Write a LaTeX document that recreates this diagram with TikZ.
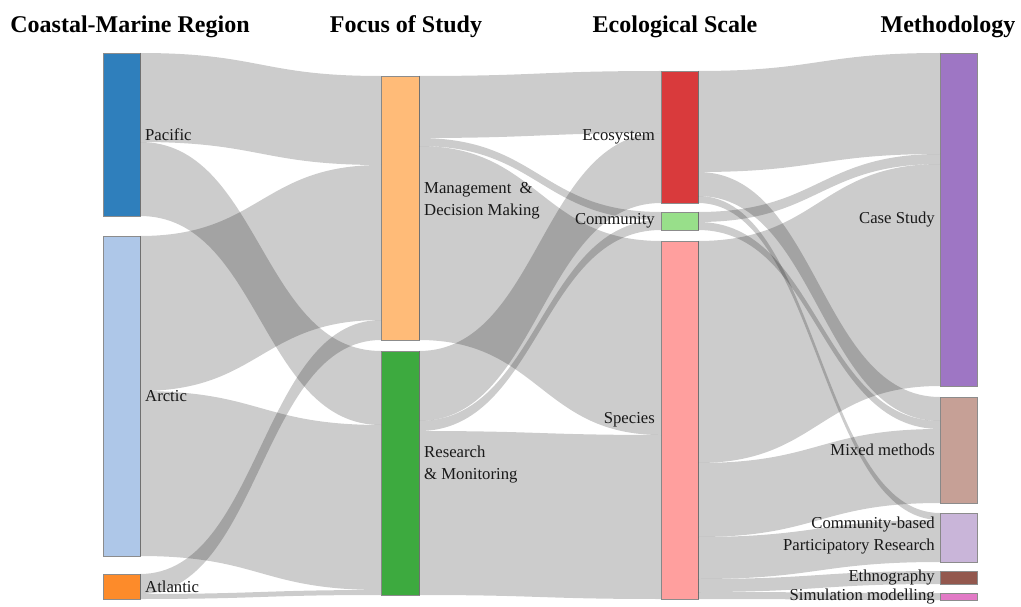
\documentclass[tikz,border=0pt]{standalone}
\usepackage{fontspec}
\setmainfont{Liberation Serif}
\usetikzlibrary{calc,positioning}
\definecolor{pacificc}{HTML}{2F7FBC}
\definecolor{arcticc}{HTML}{AEC7E8}
\definecolor{atlanticc}{HTML}{FD8B2A}
\definecolor{mgmtc}{HTML}{FFBB78}
\definecolor{resc}{HTML}{3DAA3F}
\definecolor{ecoc}{HTML}{D93A3C}
\definecolor{commc}{HTML}{98DF8A}
\definecolor{specc}{HTML}{FF9F9E}
\definecolor{casec}{HTML}{9E76C4}
\definecolor{mixedc}{HTML}{C6A096}
\definecolor{cbprc}{HTML}{C9B5D9}
\definecolor{ethc}{HTML}{93584E}
\definecolor{simc}{HTML}{E27AC6}
\tikzstyle{bar}=[draw=black!45,line width=0.6pt,minimum width=37pt,inner sep=0pt,outer sep=0pt,anchor=north west]
\tikzstyle{link}=[fill=black,fill opacity=0.2]
\tikzstyle{lbl}=[inner sep=0pt,text=black!90,font=\fontsize{16.7}{22}\selectfont]
\tikzstyle{ttl}=[inner sep=0pt,font=\bfseries\fontsize{24}{28}\selectfont]
% band from source node (offset from its top) to target node (offset), width
\newcommand{\flowband}[5]{\fill[link] ($(#1.north east)+(0,#2)$) .. controls +(120,0) and +(-120,0) .. ($(#3.north west)+(0,#4)$) -- ++(0,#5) .. controls +(-120,0) and +(120,0) .. ($(#1.north east)+(0,{#2+#5})$) -- cycle;}

\begin{document}
\begin{tikzpicture}[x=1pt,y=-1pt]
\useasboundingbox[fill=white] (0,0) rectangle (1021,607);
% titles
\node[ttl] (t1) at (130,27) {Coastal-Marine Region};
\node[ttl] (t2) at (406,27) {Focus of Study};
\node[ttl] (t3) at (675,27) {Ecological Scale};
\node[ttl] (t4) at (948,27) {Methodology};
% region
\node[bar,fill=pacificc,minimum height=163pt] (pac) at (103,53) {};
\node[bar,fill=arcticc,minimum height=320pt] (arc) at (103,236) {};
\node[bar,fill=atlanticc,minimum height=25pt] (atl) at (103,574) {};
% focus
\node[bar,fill=mgmtc,minimum height=264pt,minimum width=38pt] (mgmt) at (381,76) {};
\node[bar,fill=resc,minimum height=244pt,minimum width=38pt] (res) at (381,351) {};
% scale
\node[bar,fill=ecoc,minimum height=132pt] (eco) at (661,71) {};
\node[bar,fill=commc,minimum height=18pt] (comm) at (661,212) {};
\node[bar,fill=specc,minimum height=358pt] (spec) at (661,241) {};
% methodology
\node[bar,fill=casec,minimum height=333pt] (cs) at (940,53) {};
\node[bar,fill=mixedc,minimum height=106pt] (mm) at (940,397) {};
\node[bar,fill=cbprc,minimum height=49pt] (cbpr) at (940,513) {};
\node[bar,fill=ethc,minimum height=13pt] (eth) at (940,571) {};
\node[bar,fill=simc,minimum height=7pt] (sim) at (940,593) {};
% region -> focus
\flowband{pac}{0}{mgmt}{0}{89}
\flowband{pac}{89}{res}{0}{74}
\flowband{arc}{0}{mgmt}{89}{155}
\flowband{arc}{155}{res}{74}{165}
\flowband{atl}{0}{mgmt}{244}{20}
\flowband{atl}{20}{res}{239}{5}
% focus -> scale
\flowband{mgmt}{0}{eco}{0}{62}
\flowband{mgmt}{62}{comm}{0}{8}
\flowband{mgmt}{70}{spec}{0}{194}
\flowband{res}{0}{eco}{62}{70}
\flowband{res}{70}{comm}{8}{10}
\flowband{res}{80}{spec}{194}{164}
% scale -> methodology
\flowband{eco}{0}{cs}{0}{101}
\flowband{eco}{101}{mm}{0}{24}
\flowband{eco}{125}{cbpr}{0}{7}
\flowband{comm}{0}{cs}{101}{10}
\flowband{comm}{10}{mm}{24}{8}
\flowband{spec}{0}{cs}{111}{222}
\flowband{spec}{222}{mm}{32}{74}
\flowband{spec}{296}{cbpr}{7}{42}
\flowband{spec}{338}{eth}{0}{13}
\flowband{spec}{351}{sim}{0}{7}
% labels
\node[lbl,right=5pt of pac] (lpac) {Pacific};
\node[lbl,right=5pt of arc] (larc) {Arctic};
\node[lbl,right=5pt of atl] (latl) {Atlantic};
\node[lbl,right=5pt of mgmt,align=left,yshift=7pt] (lmgmt) {Management~~\&\\Decision Making};
\node[lbl,right=5pt of res,align=left,yshift=8pt] (lres) {Research\\\& Monitoring};
\node[lbl,left=6pt of eco] (leco) {Ecosystem};
\node[lbl,left=6pt of comm] (lcomm) {Community};
\node[lbl,left=6pt of spec] (lspec) {Species};
\node[lbl,left=5pt of cs] (lcs) {Case Study};
\node[lbl,left=5pt of mm] (lmm) {Mixed methods};
\node[lbl,left=5pt of cbpr,align=right,yshift=2pt] (lcbpr) {Community-based\\Participatory Research};
\node[lbl,left=5pt of eth] (leth) {Ethnography};
\node[lbl,left=5pt of sim] (lsim) {Simulation modelling};
\end{tikzpicture}
\end{document}
